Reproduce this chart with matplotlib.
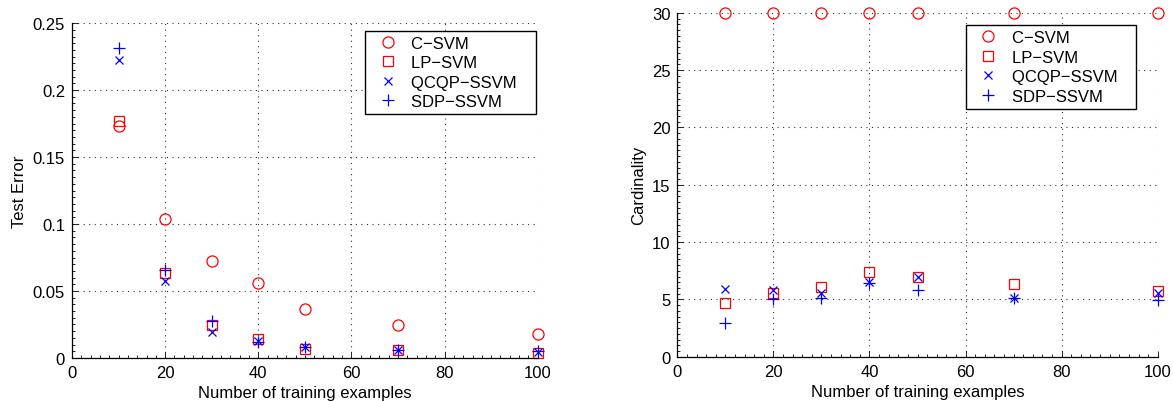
import matplotlib
matplotlib.use("Agg")
import matplotlib.pyplot as plt
from matplotlib.ticker import MultipleLocator, FormatStrFormatter

plt.rcParams['font.family'] = ['Liberation Sans', 'DejaVu Sans']

n_train = [10, 20, 30, 40, 50, 70, 100]

# test error
err_csvm = [0.173, 0.1035, 0.0726, 0.056, 0.0363, 0.0244, 0.0181]
err_lpsvm = [0.177, 0.0634, 0.0246, 0.0139, 0.0070, 0.0060, 0.0040]
err_qcqp = [0.2226, 0.0577, 0.0194, 0.0129, 0.0084, 0.0060, 0.0048]
err_sdp = [0.2311, 0.0657, 0.0274, 0.0122, 0.0084, 0.0062, 0.0050]

# cardinality
card_csvm = [30, 30, 30, 30, 30, 30, 30]
card_lpsvm = [4.68, 5.55, 6.05, 7.41, 6.95, 6.31, 5.73]
card_qcqp = [5.93, 5.79, 5.55, 6.49, 6.95, 5.12, 5.55]
card_sdp = [2.94, 5.03, 5.12, 6.40, 5.84, 5.10, 4.97]

labels = ['C\u2212SVM', 'LP\u2212SVM', 'QCQP\u2212SSVM', 'SDP\u2212SSVM']
styles = [dict(marker='o', color='r', ms=8),
          dict(marker='s', color='r', ms=7),
          dict(marker='x', color='b', ms=6),
          dict(marker='+', color='b', ms=9)]

fig = plt.figure(figsize=(11.73, 4.02), dpi=100)
ax1 = fig.add_axes([0.0614, 0.107, 0.397, 0.833])
ax2 = fig.add_axes([0.5774, 0.110, 0.4096, 0.8557])


def draw(ax, series, ylim, ymaj, ymin, ylabel, leg_anchor):
    for ys, lab, st in zip(series, labels, styles):
        filled = st['marker'] in ('x', '+')
        # trailing spaces give the matlab-like right padding in the legend box
        ax.plot(n_train, ys, linestyle='none', marker=st['marker'], ms=st['ms'],
                mec=st['color'], mfc=st['color'] if filled else 'none',
                mew=0.9, label=lab + '   ', clip_on=False)
    ax.set_xlim(0, 100)
    ax.set_ylim(*ylim)
    ax.xaxis.set_major_locator(MultipleLocator(20))
    ax.xaxis.set_minor_locator(MultipleLocator(2))
    ax.yaxis.set_major_locator(MultipleLocator(ymaj))
    ax.yaxis.set_minor_locator(MultipleLocator(ymin))
    ax.yaxis.set_major_formatter(FormatStrFormatter('%g'))
    ax.tick_params(which='both', direction='in', labelsize=12, width=0.6, pad=5)
    ax.tick_params(which='major', length=4)
    ax.tick_params(which='minor', length=2)
    ax.spines['top'].set_visible(False)
    ax.spines['right'].set_visible(False)
    ax.spines['left'].set_linewidth(0.9)
    ax.spines['bottom'].set_linewidth(0.9)
    ax.grid(True, which='major', linestyle=(0, (1, 4)), color='#333333', linewidth=0.8)
    ax.set_axisbelow(True)
    ax.set_xlabel('Number of training examples', fontsize=12, labelpad=4)
    ax.set_ylabel(ylabel, fontsize=12, labelpad=4)
    leg = ax.legend(loc='upper right', bbox_to_anchor=leg_anchor, fontsize=12,
                    fancybox=False, framealpha=1, edgecolor='k', borderpad=0.3,
                    handlelength=2.1, handletextpad=0.35, labelspacing=0.27,
                    borderaxespad=0, numpoints=1)
    leg.get_frame().set_linewidth(1.0)


draw(ax1, [err_csvm, err_lpsvm, err_qcqp, err_sdp], (0, 0.25), 0.05, 0.005,
     'Test Error', (0.9957, 0.977))
draw(ax2, [card_csvm, card_lpsvm, card_qcqp, card_sdp], (0, 30), 5, 0.5,
     'Cardinality', (0.9548, 0.964))

fig.savefig('out.png', dpi=100)
